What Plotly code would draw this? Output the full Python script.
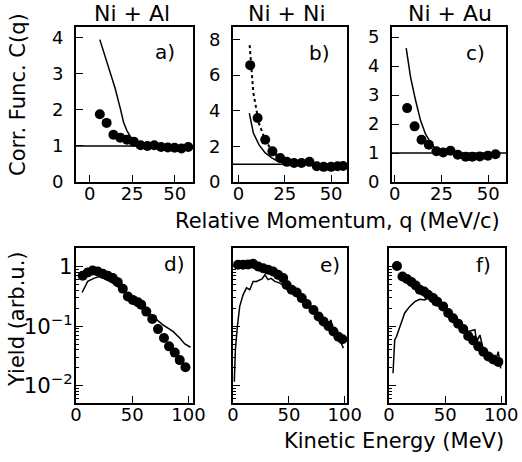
import plotly.graph_objects as go

W, H = 522, 462
FONT = "DejaVu Sans"

# ---- data: correlation functions (top row) ----
qA = [6, 10, 14, 18, 22, 26, 30, 34, 38, 42, 46, 50, 54, 58]
cA = [1.88, 1.64, 1.31, 1.23, 1.17, 1.12, 1.02, 1.0, 1.02, 0.97, 0.96, 0.95, 0.93, 0.97]
qA_model = [6, 9, 12, 15, 18, 20, 22, 25, 28, 32, 36]
cA_model = [3.95, 3.5, 3.05, 2.6, 2.05, 1.65, 1.42, 1.18, 1.06, 1.0, 1.0]

qB = [6.3, 10.3, 14.4, 18.3, 22.5, 26.1, 30, 34, 38.3, 42.3, 46, 50, 53.5, 56.5]
cB = [6.56, 3.59, 2.37, 1.72, 1.35, 1.13, 1.07, 1.07, 1.13, 0.88, 0.85, 0.85, 0.88, 0.9]
qB_dot = [6, 8, 11, 14, 17, 21, 24, 28, 35]
cB_dot = [7.68, 5.0, 3.3, 2.45, 1.91, 1.44, 1.16, 1.05, 1.0]
qB_model = [5.8, 8, 11, 14.4, 18, 21.6, 25, 30]
cB_model = [3.87, 2.75, 2.1, 1.63, 1.35, 1.13, 1.05, 1.0]

qC = [6.6, 10.6, 14.3, 18.2, 22.3, 25.9, 29.8, 33.7, 37.9, 41.5, 45.5, 49.8, 53.9]
cC = [2.55, 1.92, 1.46, 1.29, 1.06, 1.02, 1.08, 0.94, 0.87, 0.87, 0.88, 0.91, 0.96]
qC_model = [6.1, 8.4, 11.1, 13.8, 16.4, 19.1, 21.8, 24.5, 30]
cC_model = [4.62, 3.63, 2.82, 2.12, 1.66, 1.37, 1.14, 1.02, 1.0]

BASELINE = 1.0

# ---- data: energy spectra (bottom row) ----
eD = [5.9, 10.4, 14.8, 19.3, 23.8, 28.2, 32.7, 37.1, 41.6, 46.1, 50.5, 55, 58, 62.5, 67.8,
      72.9, 78.2, 82.7, 87.8, 92.2, 97.3]
yD = [0.698, 0.794, 0.857, 0.824, 0.753, 0.698, 0.638, 0.546, 0.422, 0.313, 0.275, 0.251,
      0.229, 0.175, 0.132, 0.089, 0.063, 0.0457, 0.0359, 0.0269, 0.0204]
eD_model = [5.4, 10.4, 16.3, 20.8, 26.8, 32.7, 41.6, 50.5, 59.5, 68.4, 77.3, 86.2, 92.2, 96.7, 101.8]
yD_model = [0.366, 0.562, 0.638, 0.679, 0.603, 0.525, 0.398, 0.295, 0.214, 0.145, 0.105,
            0.0813, 0.0631, 0.0501, 0.0442]

eE = [4.5, 9, 13.5, 18, 22.5, 27, 31.4, 35.9, 40.4, 44.9, 48, 52.5, 57, 61.5, 66, 72, 76.6,
      81, 85.4, 89.9, 94.3, 97.9]
yE = [1.07, 1.07, 1.08, 1.11, 1.0, 0.933, 0.881, 0.824, 0.724, 0.638, 0.49, 0.407, 0.366,
      0.295, 0.234, 0.186, 0.145, 0.120, 0.100, 0.0813, 0.0661, 0.0603]
eE_model = [1.2, 2.1, 3.9, 6, 9, 12.1, 15, 18, 21, 24, 26, 28.5, 31.4, 34, 37.5, 42, 46.4,
            52.5, 61.5, 70.4, 79.4, 85, 87.8, 88.4, 94.3, 98.8]
yE_model = [0.0117, 0.0398, 0.0977, 0.214, 0.335, 0.437, 0.407, 0.562, 0.562, 0.603, 0.617,
            0.724, 0.603, 0.631, 0.562, 0.525, 0.457, 0.380, 0.282, 0.200, 0.135, 0.110,
            0.126, 0.0871, 0.0661, 0.0427]

eF = [7.1, 12, 16, 20, 23.8, 27.4, 31.3, 34.8, 39.3, 42.9, 48.2, 52.7, 57.1, 61.6, 66.1,
      70.5, 75, 79.5, 84, 88.4, 92.9, 97.4]
yF = [1.02, 0.679, 0.617, 0.550, 0.479, 0.407, 0.380, 0.335, 0.295, 0.257, 0.214, 0.166,
      0.135, 0.110, 0.0891, 0.0684, 0.0575, 0.0457, 0.0372, 0.0309, 0.0275, 0.0251]
eF_model = [3.6, 4.2, 5.1, 6.6, 8.9, 11, 14, 18.5, 23, 27.4, 31.9, 36.3, 39.3, 42.3, 48.2,
            55.7, 63.1, 70.5, 76.5, 78, 81, 84, 87, 91.4, 94.3, 97.3, 99.5]
yF_model = [0.0162, 0.0269, 0.0589, 0.0661, 0.0871, 0.120, 0.166, 0.214, 0.257, 0.282,
            0.275, 0.316, 0.229, 0.240, 0.200, 0.145, 0.105, 0.0813, 0.0871, 0.0550,
            0.0708, 0.0398, 0.0288, 0.0347, 0.0240, 0.0372, 0.0195]

titles = ["Ni + Al", "Ni + Ni", "Ni + Au"]
top_labels = ["a)", "b)", "c)"]
bot_labels = ["d)", "e)", "f)"]
top_ticks = [[0, 1, 2, 3, 4], [0, 2, 4, 6, 8], [0, 1, 2, 3, 4, 5]]

# ---- layout geometry (pixels) ----
top_x = [(76, 193), (233, 347), (392, 506)]
bot_x = [(76, 193), (233, 347), (389, 505)]
top_y = (27, 182)
bot_y = (248, 403)
top_xr = [[-8, 60.8], [-3, 58.6], [-1.5, 59.5]]
top_yr = [[0, 4.3], [0, 8.7], [0, 5.35]]
bot_xr = [[0, 104], [0, 102], [0, 103.3]]
bot_yr = [-2.29, 0.31]
top_lab_pos = [(0.86, 0.84), (0.87, 0.83), (0.83, 0.83)]
bot_lab_pos = [(0.95, 0.90), (0.96, 0.89), (0.90, 0.89)]


def dx(p):
    return [p[0] / W, p[1] / W]


def dy(p):
    return [1 - p[1] / H, 1 - p[0] / H]


def names(n):
    s = "" if n == 1 else str(n)
    return "x" + s, "y" + s, "xaxis" + s, "yaxis" + s


fig = go.Figure()
tf = dict(family=FONT, size=18, color="black")
axcommon = dict(showline=True, linecolor="black", linewidth=2, mirror=True,
                ticks="inside", ticklen=7, tickwidth=1, tickcolor="black",
                showgrid=False, zeroline=False, automargin=False)

mk = dict(color="black", size=10)
ln = dict(color="black", width=1.5)

top_data = [
    (qA, cA, [(qA_model, cA_model, "solid")]),
    (qB, cB, [(qB_dot, cB_dot, "dot"), (qB_model, cB_model, "solid")]),
    (qC, cC, [(qC_model, cC_model, "solid")]),
]
bot_data = [
    (eD, yD, eD_model, yD_model),
    (eE, yE, eE_model, yE_model),
    (eF, yF, eF_model, yF_model),
]

layout = dict(template="none", width=W, height=H, margin=dict(l=0, r=0, t=0, b=0, pad=0),
              paper_bgcolor="white", plot_bgcolor="white", showlegend=False)

shapes = []
for i in range(3):
    xa, ya, xk, yk = names(i + 1)
    for mx, my, dash in top_data[i][2]:
        fig.add_trace(go.Scatter(x=mx, y=my, mode="lines",
                                 line=dict(color="black", width=2 if dash == "dot" else 1.5, dash=dash),
                                 xaxis=xa, yaxis=ya))
    fig.add_trace(go.Scatter(x=top_data[i][0], y=top_data[i][1], mode="markers",
                             marker=mk, xaxis=xa, yaxis=ya))
    layout[xk] = dict(domain=dx(top_x[i]), range=top_xr[i], anchor=ya, tickfont=tf,
                      tickvals=[0, 25, 50], ticklabelstandoff=-6, **axcommon)
    layout[yk] = dict(domain=dy(top_y), range=top_yr[i], anchor=xa, tickfont=tf,
                      tickvals=top_ticks[i], ticklabelstandoff=7, **axcommon)
    shapes.append(dict(type="line", xref=f"{xa} domain", yref=ya, x0=0, x1=1,
                       y0=BASELINE, y1=BASELINE, line=dict(color="black", width=1.5)))

    xb, yb, xk2, yk2 = names(i + 4)
    ex, ey, mx, my = bot_data[i]
    fig.add_trace(go.Scatter(x=mx, y=my, mode="lines", line=ln, xaxis=xb, yaxis=yb))
    fig.add_trace(go.Scatter(x=ex, y=ey, mode="markers", marker=mk, xaxis=xb, yaxis=yb))
    layout[xk2] = dict(domain=dx(bot_x[i]), range=bot_xr[i], anchor=yb, tickfont=tf,
                       tickvals=[0, 50, 100], ticklabelstandoff=-6, **axcommon)
    layout[yk2] = dict(domain=dy(bot_y), range=bot_yr, anchor=xb, type="log", dtick=1,
                       exponentformat="power", showticklabels=(i == 0), ticklabelstandoff=-2,
                       tickfont=dict(family=FONT, size=17, color="black"),
                       minor=dict(ticks="inside", ticklen=3, tickcolor="black", dtick="D1"),
                       **axcommon)

layout["shapes"] = shapes
fig.update_layout(**layout)

ann = []
centers = [132, 287, 450]
big = dict(family=FONT, size=20, color="black")
ttl = dict(family=FONT, size=22, color="black")
for i in range(3):
    ann.append(dict(text=titles[i], x=centers[i] / W, y=1 - 14 / H, xref="paper", yref="paper",
                    showarrow=False, font=ttl, xanchor="center", yanchor="middle"))
    xa, ya, _, _ = names(i + 1)
    ann.append(dict(text=top_labels[i], x=top_lab_pos[i][0], y=top_lab_pos[i][1],
                    xref=f"{xa} domain", yref=f"{ya} domain",
                    showarrow=False, font=big, xanchor="right", yanchor="middle"))
    xb, yb, _, _ = names(i + 4)
    ann.append(dict(text=bot_labels[i], x=bot_lab_pos[i][0], y=bot_lab_pos[i][1],
                    xref=f"{xb} domain", yref=f"{yb} domain",
                    showarrow=False, font=big, xanchor="right", yanchor="middle"))

axt = dict(family=FONT, size=21, color="black")
ann.append(dict(text="Relative Momentum, q (MeV/c)", x=337 / W, y=1 - 221 / H,
                xref="paper", yref="paper", showarrow=False,
                font=axt, xanchor="center", yanchor="middle"))
ann.append(dict(text="Kinetic Energy (MeV)", x=394 / W, y=1 - 441 / H,
                xref="paper", yref="paper", showarrow=False,
                font=axt, xanchor="center", yanchor="middle"))
ann.append(dict(text="Corr. Func. C(q)", x=18 / W, y=1 - 95 / H, textangle=-90,
                xref="paper", yref="paper", showarrow=False,
                font=axt, xanchor="center", yanchor="middle"))
ann.append(dict(text="Yield (arb.u.)", x=17 / W, y=1 - 319 / H, textangle=-90,
                xref="paper", yref="paper", showarrow=False,
                font=axt, xanchor="center", yanchor="middle"))
fig.update_layout(annotations=ann)

fig.write_html("out.html", config={"displayModeBar": False},
               post_script="document.body.style.margin='0px';document.body.style.overflow='hidden';")
